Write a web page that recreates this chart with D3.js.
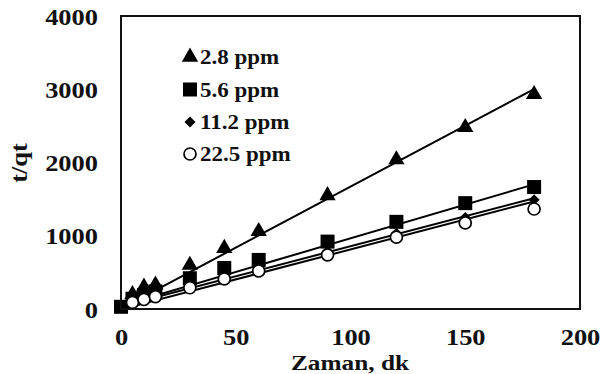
<!DOCTYPE html>
<html>
<head>
<meta charset="utf-8">
<script src="https://cdn.jsdelivr.net/npm/d3@7/dist/d3.min.js"></script>
<style>
  html, body { margin: 0; padding: 0; background: #fff; }
  svg { display: block; }
  text { font-family: "Liberation Serif", "Times New Roman", serif; font-weight: bold; fill: #111; }
</style>
</head>
<body>
<svg id="chart" width="611" height="374"></svg>
<script>
// Sampling times (min)
const times = [0, 5, 10, 15, 30, 45, 60, 90, 120, 150, 180];

// t/qt values per concentration (null = not measured)
const series28  = [null, 200, 300, 330, 600, 830, 1060, 1550, 2040, 2480, 2930];
const series56  = [30, 140, 190, 240, 420, 560, 670, 920, 1190, 1445, 1665];
const series112 = [null, 110, 160, 200, 330, 450, 560, 785, 1035, 1250, 1490];
const series225 = [null, 90, 130, 170, 290, 410, 520, 740, 980, 1175, 1365];

const seriesNames = ["2.8 ppm", "5.6 ppm", "11.2 ppm", "22.5 ppm"];
const seriesShapes = ["triangle", "square", "diamond", "circle"];

// Linear trendline coefficients (t/qt = slope * t + intercept)
const trendSlopes = [16.65, 9.2, 8.2, 8.18];
const trendIntercepts = [5, 45, 37, -5];
const trendRange = [0, 180];

const xTicks = [0, 50, 100, 150, 200];
const yTicks = [0, 1000, 2000, 3000, 4000];

const allSeries = [series28, series56, series112, series225];

const svg = d3.select("#chart");
const plotL = 121, plotR = 580, plotT = 16, plotB = 309;
const stretch = 1.15;

const x = d3.scaleLinear().domain([0, 200]).range([plotL, plotR]);
const y = d3.scaleLinear().domain([0, 4000]).range([plotB, plotT]);

// Text helper: slightly widened serif glyphs
function label(g, tx, ty, str, size, anchor, rot) {
  return g.append("text")
    .attr("transform", `translate(${tx},${ty})` + (rot ? ` rotate(${rot})` : "") + ` scale(${stretch},1)`)
    .attr("text-anchor", anchor)
    .style("font-size", size + "px")
    .text(str);
}

// Axis tick labels (no tick marks or gridlines)
const xAxis = d3.axisBottom(x).tickValues(xTicks).tickSize(0).tickFormat(d3.format("d"));
const yAxis = d3.axisLeft(y).tickValues(yTicks).tickSize(0).tickFormat(d3.format("d"));

const gx = svg.append("g").attr("transform", `translate(0,${plotB})`).call(xAxis);
gx.select(".domain").remove();
gx.selectAll(".tick text").remove();
gx.selectAll(".tick").each(function(d) {
  label(d3.select(this), 0, 36, d3.format("d")(d), 23, "middle");
});

const gy = svg.append("g").attr("transform", `translate(${plotL},0)`).call(yAxis);
gy.select(".domain").remove();
gy.selectAll(".tick text").remove();
gy.selectAll(".tick").each(function(d) {
  label(d3.select(this), -23, 8, d3.format("d")(d), 23, "end");
});

// Axis titles
label(svg, 350, 370, "Zaman, dk", 22, "middle");
label(svg, 27, 163, "t/qt", 23, "middle", -90);

// Trendlines
allSeries.forEach((s, i) => {
  const pts = trendRange.map(t => [x(t), y(trendSlopes[i] * t + trendIntercepts[i])]);
  svg.append("path")
    .attr("d", d3.line()(pts))
    .attr("fill", "none")
    .attr("stroke", "#000")
    .attr("stroke-width", 2);
});

// Marker shapes
function drawMarker(g, shape, cx, cy) {
  if (shape === "triangle") {
    g.append("path").attr("d", d3.symbol(d3.symbolTriangle, 115)())
      .attr("transform", `translate(${cx},${cy})`).attr("fill", "#000");
  } else if (shape === "square") {
    g.append("rect").attr("x", cx - 7).attr("y", cy - 7).attr("width", 14).attr("height", 14).attr("fill", "#000");
  } else if (shape === "diamond") {
    g.append("path").attr("d", "M0,-5.5L5.5,0L0,5.5L-5.5,0Z")
      .attr("transform", `translate(${cx},${cy})`).attr("fill", "#000");
  } else {
    g.append("circle").attr("cx", cx).attr("cy", cy).attr("r", 6)
      .attr("fill", "#fff").attr("stroke", "#000").attr("stroke-width", 1.7);
  }
}

const gm = svg.append("g");
allSeries.forEach((s, i) => {
  s.forEach((v, j) => {
    if (v === null) return;
    drawMarker(gm, seriesShapes[i], x(times[j]), y(v));
  });
});

// Legend
const legendY = [57, 89.5, 122, 154];
const gl = svg.append("g");
seriesNames.forEach((name, i) => {
  drawMarker(gl, seriesShapes[i], 190, legendY[i]);
  label(gl, 200, legendY[i] + 7, name, 20, "start");
});

// Plot frame
svg.append("rect")
  .attr("x", plotL).attr("y", plotT)
  .attr("width", plotR - plotL).attr("height", plotB - plotT)
  .attr("fill", "none").attr("stroke", "#111").attr("stroke-width", 2);
</script>
</body>
</html>
